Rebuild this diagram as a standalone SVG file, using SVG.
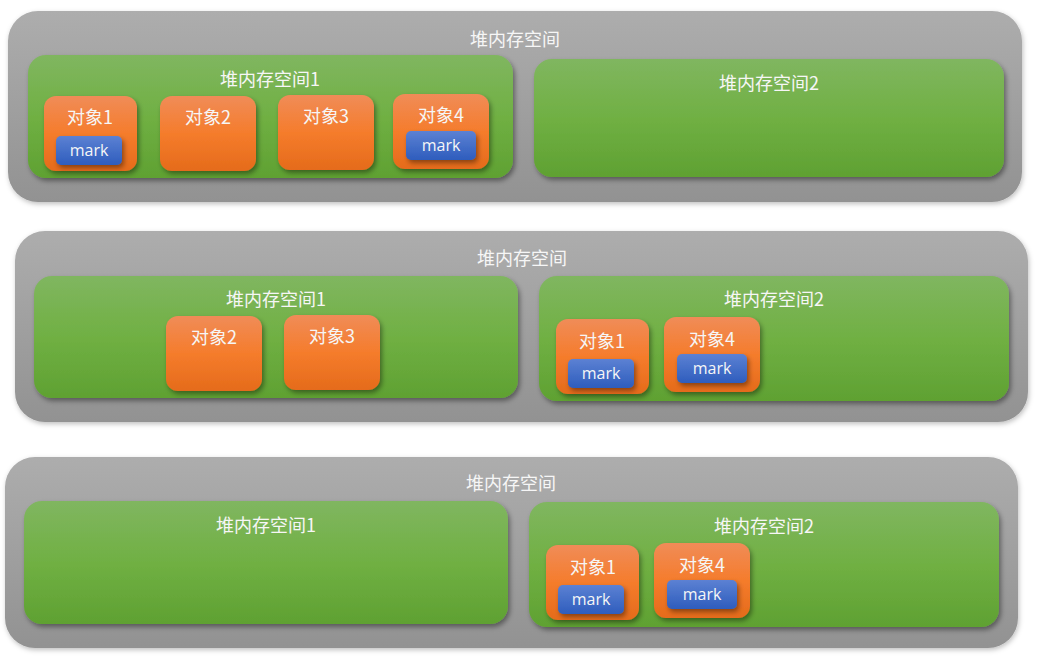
<svg xmlns="http://www.w3.org/2000/svg" width="1040" height="660" viewBox="0 0 1040 660">
<defs>
<linearGradient id="gGray" x1="0" y1="0" x2="0" y2="1"><stop offset="0" stop-color="#adadad"/><stop offset="1" stop-color="#929292"/></linearGradient>
<linearGradient id="gGreen" x1="0" y1="0" x2="0" y2="1"><stop offset="0" stop-color="#80b660"/><stop offset="0.5" stop-color="#70b043"/><stop offset="1" stop-color="#5fa132"/></linearGradient>
<linearGradient id="gOrange" x1="0" y1="0" x2="0" y2="1"><stop offset="0" stop-color="#f08c58"/><stop offset="0.5" stop-color="#f57c2c"/><stop offset="1" stop-color="#e56b1b"/></linearGradient>
<linearGradient id="gBlue" x1="0" y1="0" x2="0" y2="1"><stop offset="0" stop-color="#5c81d3"/><stop offset="1" stop-color="#2e5dbd"/></linearGradient>
<filter id="shOuter" x="-5%" y="-10%" width="110%" height="125%"><feDropShadow dx="1" dy="2" stdDeviation="2.5" flood-color="#000" flood-opacity="0.25"/></filter>
<filter id="sh" x="-10%" y="-15%" width="125%" height="140%"><feDropShadow dx="2" dy="3" stdDeviation="2.5" flood-color="#000" flood-opacity="0.4"/></filter>
</defs>
<style>
.heap{fill:url(#gGray);filter:url(#shOuter)}
.space{fill:url(#gGreen);filter:url(#sh)}
.obj{fill:url(#gOrange);filter:url(#sh)}
.mark{fill:url(#gBlue);filter:url(#sh)}
text{fill:#f6f6f6;font-family:"Noto Sans CJK SC","Noto Sans",sans-serif;font-size:18px;text-anchor:middle}
.mt{font-family:"Open Sans","Noto Sans",sans-serif;font-size:16px}
</style>

<g id="heap1">
<rect class="heap" x="8" y="11" width="1014" height="191" rx="30"/>
<text x="515" y="46">堆内存空间</text>
</g>
<g id="heap1-space1">
<rect class="space" x="28" y="55" width="485" height="123" rx="18"/>
<text x="270" y="86">堆内存空间1</text>
</g>
<g id="heap1-obj1">
<rect class="obj" x="44" y="96" width="93" height="75" rx="12"/>
<text x="90" y="124">对象1</text>
<rect class="mark" x="56" y="136" width="66" height="29" rx="5"/>
<text class="mt" x="89" y="156">mark</text>
</g>
<g id="heap1-obj2">
<rect class="obj" x="160" y="96" width="96" height="75" rx="12"/>
<text x="208" y="124">对象2</text>
</g>
<g id="heap1-obj3">
<rect class="obj" x="278" y="95" width="96" height="75" rx="12"/>
<text x="326" y="123">对象3</text>
</g>
<g id="heap1-obj4">
<rect class="obj" x="393" y="94" width="96" height="75" rx="12"/>
<text x="441" y="122">对象4</text>
<rect class="mark" x="406" y="131" width="70" height="29" rx="5"/>
<text class="mt" x="441" y="151">mark</text>
</g>
<g id="heap1-space2">
<rect class="space" x="534" y="59" width="470" height="118" rx="18"/>
<text x="769" y="90">堆内存空间2</text>
</g>

<g id="heap2">
<rect class="heap" x="15" y="231" width="1013" height="191" rx="30"/>
<text x="522" y="265">堆内存空间</text>
</g>
<g id="heap2-space1">
<rect class="space" x="34" y="276" width="484" height="122" rx="18"/>
<text x="276" y="306">堆内存空间1</text>
</g>
<g id="heap2-obj2">
<rect class="obj" x="166" y="316" width="96" height="75" rx="12"/>
<text x="214" y="344">对象2</text>
</g>
<g id="heap2-obj3">
<rect class="obj" x="284" y="315" width="96" height="75" rx="12"/>
<text x="332" y="343">对象3</text>
</g>
<g id="heap2-space2">
<rect class="space" x="539" y="276" width="470" height="125" rx="18"/>
<text x="774" y="306">堆内存空间2</text>
</g>
<g id="heap2-obj1">
<rect class="obj" x="556" y="319" width="93" height="75" rx="12"/>
<text x="602" y="348">对象1</text>
<rect class="mark" x="568" y="359" width="66" height="29" rx="5"/>
<text class="mt" x="601" y="379">mark</text>
</g>
<g id="heap2-obj4">
<rect class="obj" x="664" y="317" width="96" height="75" rx="12"/>
<text x="712" y="346">对象4</text>
<rect class="mark" x="677" y="354" width="70" height="29" rx="5"/>
<text class="mt" x="712" y="374">mark</text>
</g>

<g id="heap3">
<rect class="heap" x="5" y="457" width="1013" height="191" rx="30"/>
<text x="511" y="490">堆内存空间</text>
</g>
<g id="heap3-space1">
<rect class="space" x="24" y="501" width="484" height="123" rx="18"/>
<text x="266" y="532">堆内存空间1</text>
</g>
<g id="heap3-space2">
<rect class="space" x="529" y="502" width="470" height="125" rx="18"/>
<text x="764" y="533">堆内存空间2</text>
</g>
<g id="heap3-obj1">
<rect class="obj" x="546" y="545" width="93" height="75" rx="12"/>
<text x="593" y="574">对象1</text>
<rect class="mark" x="558" y="585" width="66" height="29" rx="5"/>
<text class="mt" x="591" y="605">mark</text>
</g>
<g id="heap3-obj4">
<rect class="obj" x="654" y="543" width="96" height="75" rx="12"/>
<text x="702" y="572">对象4</text>
<rect class="mark" x="667" y="580" width="70" height="29" rx="5"/>
<text class="mt" x="702" y="600">mark</text>
</g>
</svg>
